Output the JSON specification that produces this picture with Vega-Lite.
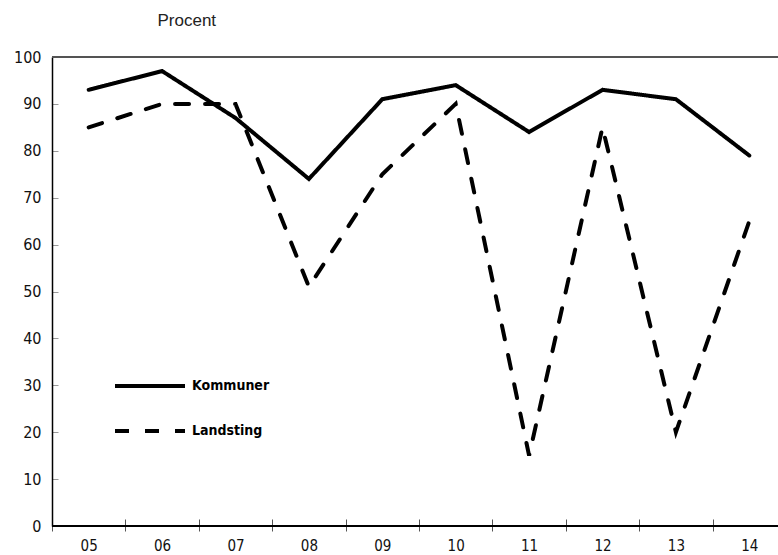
{
  "$schema": "https://vega.github.io/schema/vega-lite/v6.json",
  "width": 726,
  "height": 469,
  "autosize": {"type": "none"},
  "padding": {"left": 52, "top": 57, "right": 0, "bottom": 29},
  "background": "white",
  "config": {
    "view": {"stroke": null},
    "font": "DejaVu Sans Condensed"
  },
  "data": {
    "values": [
      {"yr": "05", "series": "Kommuner", "v": 93},
      {"yr": "06", "series": "Kommuner", "v": 97},
      {"yr": "07", "series": "Kommuner", "v": 87},
      {"yr": "08", "series": "Kommuner", "v": 74},
      {"yr": "09", "series": "Kommuner", "v": 91},
      {"yr": "10", "series": "Kommuner", "v": 94},
      {"yr": "11", "series": "Kommuner", "v": 84},
      {"yr": "12", "series": "Kommuner", "v": 93},
      {"yr": "13", "series": "Kommuner", "v": 91},
      {"yr": "14", "series": "Kommuner", "v": 79},
      {"yr": "05", "series": "Landsting", "v": 85},
      {"yr": "06", "series": "Landsting", "v": 90},
      {"yr": "07", "series": "Landsting", "v": 90},
      {"yr": "08", "series": "Landsting", "v": 51},
      {"yr": "09", "series": "Landsting", "v": 75},
      {"yr": "10", "series": "Landsting", "v": 90},
      {"yr": "11", "series": "Landsting", "v": 15},
      {"yr": "12", "series": "Landsting", "v": 85},
      {"yr": "13", "series": "Landsting", "v": 20},
      {"yr": "14", "series": "Landsting", "v": 65}
    ]
  },
  "layer": [
    {
      "mark": {"type": "rule", "color": "#555555", "strokeWidth": 1.5},
      "encoding": {"y": {"datum": 100, "type": "quantitative"}}
    },
    {
      "mark": {"type": "rule", "color": "black", "strokeWidth": 1.5},
      "encoding": {"y": {"datum": 0, "type": "quantitative"}}
    },
    {
      "mark": {"type": "line", "color": "black", "strokeWidth": 4, "strokeCap": "round", "strokeJoin": "miter"},
      "encoding": {
        "x": {
          "field": "yr",
          "type": "ordinal",
          "scale": {"type": "band", "range": [0, 734], "paddingInner": 0, "paddingOuter": 0},
          "axis": {
            "title": null,
            "domain": false,
            "offset": -7,
            "tickSize": 12,
            "tickBand": "extent",
            "tickColor": "#555555",
            "tickWidth": 1,
            "labelAngle": 0,
            "labelPadding": 7,
            "labelBaseline": "top",
            "labelFontSize": 15,
            "labelColor": "#111111",
            "labelFont": "DejaVu Sans Condensed"
          }
        },
        "y": {
          "field": "v",
          "type": "quantitative",
          "scale": {"domain": [0, 100], "nice": false},
          "axis": {
            "values": [0, 10, 20, 30, 40, 50, 60, 70, 80, 90, 100],
            "grid": false,
            "domainColor": "black",
            "domainWidth": 1.5,
            "tickColor": "#999999",
            "tickSize": -6,
            "tickWidth": 1,
            "labelPadding": 17,
            "labelFontSize": 16,
            "labelColor": "#111111",
            "labelFont": "DejaVu Sans Condensed",
            "title": "Procent",
            "titleFont": "Liberation Sans",
            "titleFontWeight": "normal",
            "titleFontSize": 17,
            "titleColor": "#222222",
            "titleAngle": 0,
            "titleAlign": "left",
            "titleBaseline": "middle",
            "titleX": 105,
            "titleY": -37
          }
        },
        "detail": {"field": "series"},
        "strokeDash": {
          "field": "series",
          "type": "nominal",
          "scale": {"domain": ["Kommuner", "Landsting"], "range": [[1, 0], [14, 16]]},
          "legend": {
            "title": null,
            "orient": "none",
            "legendX": 61,
            "legendY": 292,
            "padding": 0,
            "symbolType": "stroke",
            "symbolSize": 4900,
            "symbolStrokeWidth": 4,
            "symbolStrokeColor": "black",
            "rowPadding": -32,
            "labelOffset": 5,
            "labelFontSize": 14,
            "labelFontWeight": "bold",
            "labelColor": "black",
            "labelFont": "DejaVu Sans Condensed"
          }
        }
      }
    }
  ]
}
